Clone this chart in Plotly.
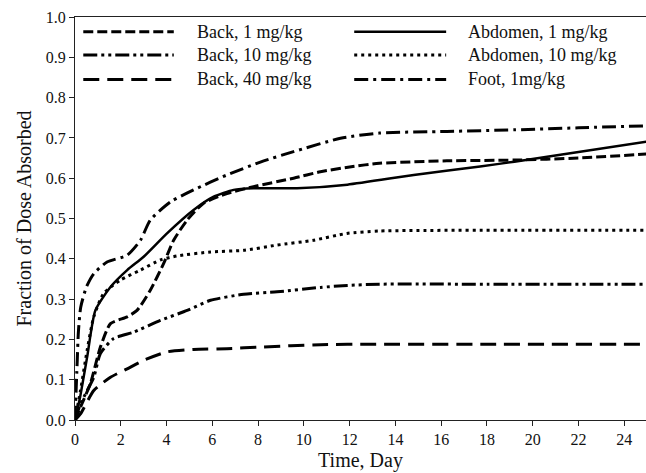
import plotly.graph_objects as go

# ---- data ----
names = ["Back, 1 mg/kg", "Abdomen, 1 mg/kg", "Back, 10 mg/kg",
         "Abdomen, 10 mg/kg", "Back, 40 mg/kg", "Foot, 1mg/kg"]

back1_x = [0, 0.3, 0.67, 1.11, 1.55, 2.28, 2.71, 3.29, 3.87, 4.31, 4.9, 5.62, 6.64, 7.8, 9.55, 10.72, 12, 13.3, 16.25, 19.2, 22, 25]
back1_y = [0, 0.04, 0.09, 0.181, 0.239, 0.256, 0.272, 0.322, 0.388, 0.446, 0.496, 0.538, 0.562, 0.579, 0.600, 0.616, 0.628, 0.637, 0.643, 0.645, 0.650, 0.660]

abd1_x = [0, 0.2, 0.53, 0.89, 1.55, 2.28, 3.0, 4.02, 5.18, 6.06, 6.93, 7.8, 9.7, 11.9, 14.8, 17.7, 19.2, 22, 25]
abd1_y = [0, 0.05, 0.156, 0.272, 0.330, 0.372, 0.405, 0.463, 0.521, 0.554, 0.571, 0.575, 0.575, 0.584, 0.608, 0.629, 0.641, 0.665, 0.691]

back10_x = [0, 0.24, 0.82, 1.11, 1.69, 2.56, 3.73, 4.9, 5.92, 7.37, 8.83, 10.72, 11.9, 13.3, 18, 25]
back10_y = [0, 0.04, 0.106, 0.165, 0.202, 0.218, 0.247, 0.272, 0.297, 0.312, 0.318, 0.329, 0.334, 0.337, 0.337, 0.337]

abd10_x = [0, 0.24, 0.53, 0.82, 1.25, 1.98, 2.86, 3.73, 4.46, 5.92, 7.37, 8.83, 10.42, 11.88, 13.34, 19.2, 25]
abd10_y = [0, 0.073, 0.173, 0.256, 0.314, 0.347, 0.372, 0.397, 0.407, 0.417, 0.421, 0.434, 0.446, 0.463, 0.469, 0.471, 0.471]

back40_x = [0, 0.24, 0.82, 1.55, 2.28, 3.0, 4.02, 5.18, 6.64, 8.1, 10.72, 13, 18, 25]
back40_y = [0, 0.015, 0.073, 0.106, 0.127, 0.148, 0.169, 0.175, 0.177, 0.181, 0.187, 0.188, 0.188, 0.188]

foot_x = [0, 0.08, 0.15, 0.25, 0.5, 0.82, 1.4, 2.28, 2.86, 3.29, 4.17, 5.18, 6.64, 8.1, 9.55, 11.6, 13.3, 16.25, 19.2, 22, 25]
foot_y = [0, 0.12, 0.22, 0.28, 0.33, 0.363, 0.392, 0.409, 0.446, 0.496, 0.541, 0.571, 0.608, 0.640, 0.666, 0.699, 0.712, 0.716, 0.720, 0.725, 0.730]

series_x = [back1_x, abd1_x, back10_x, abd10_x, back40_x, foot_x]
series_y = [back1_y, abd1_y, back10_y, abd10_y, back40_y, foot_y]

x_ticks = list(range(0, 25, 2))
y_ticks = [i / 10 for i in range(11)]
y_tick_text = [f"{v:.1f}" for v in y_ticks]

# ---- styles ----
dashes = ["10px,4px", "solid", "14px,4px,3px,4px,3px,4px", "3px,4px",
          "16px,8px", "14px,5px,3px,5px"]
widths = [3, 2.5, 3, 3, 3, 3]
FONT = "Liberation Serif, Times New Roman, serif"

fig = go.Figure()
for n, xs, ys, d, w in zip(names, series_x, series_y, dashes, widths):
    fig.add_trace(go.Scatter(x=xs, y=ys, mode="lines", name=n,
                             line=dict(color="black", width=w, dash=d,
                                       shape="spline", smoothing=0.6),
                             showlegend=False))

# ---- manual legend (two columns, three rows) ----
col_x = [(0.0145, 0.173, 0.211), (0.489, 0.65, 0.684)]
row_y = [0.9635, 0.906, 0.845]
for i, (n, d, w) in enumerate(zip(names, dashes, widths)):
    c = col_x[i % 2]
    r = row_y[i // 2]
    fig.add_shape(type="line", xref="paper", yref="paper",
                  x0=c[0], x1=c[1], y0=r, y1=r,
                  line=dict(color="black", width=w, dash=d))
    fig.add_annotation(xref="paper", yref="paper", x=c[2], y=r,
                       text=n, showarrow=False, xanchor="left",
                       yanchor="middle",
                       font=dict(family=FONT, size=18, color="#111"))

fig.update_layout(
    width=646, height=473,
    margin=dict(l=75, r=0, t=17, b=53),
    paper_bgcolor="white", plot_bgcolor="white",
    font=dict(family=FONT, color="black"),
    showlegend=False,
)
fig.update_xaxes(range=[0, 24.95], tickvals=x_ticks,
                 ticks="outside", ticklen=5, tickwidth=1.2, tickcolor="#222",
                 showline=True, linecolor="#222", linewidth=1.3, mirror=True,
                 showgrid=False, zeroline=False,
                 tickfont=dict(family=FONT, size=16, color="#111"),
                 title=dict(text="Time, Day", standoff=5,
                            font=dict(family=FONT, size=20, color="#111")))
fig.update_yaxes(range=[0, 1.0], tickvals=y_ticks, ticktext=y_tick_text,
                 ticks="outside", ticklen=5, tickwidth=1.2, tickcolor="#222",
                 showline=True, linecolor="#222", linewidth=1.3,
                 showgrid=False, zeroline=False,
                 tickfont=dict(family=FONT, size=16, color="#111"),
                 title=dict(text="Fraction of Dose Absorbed", standoff=8,
                            font=dict(family=FONT, size=20, color="#111")))

fig.write_html("out.html")
